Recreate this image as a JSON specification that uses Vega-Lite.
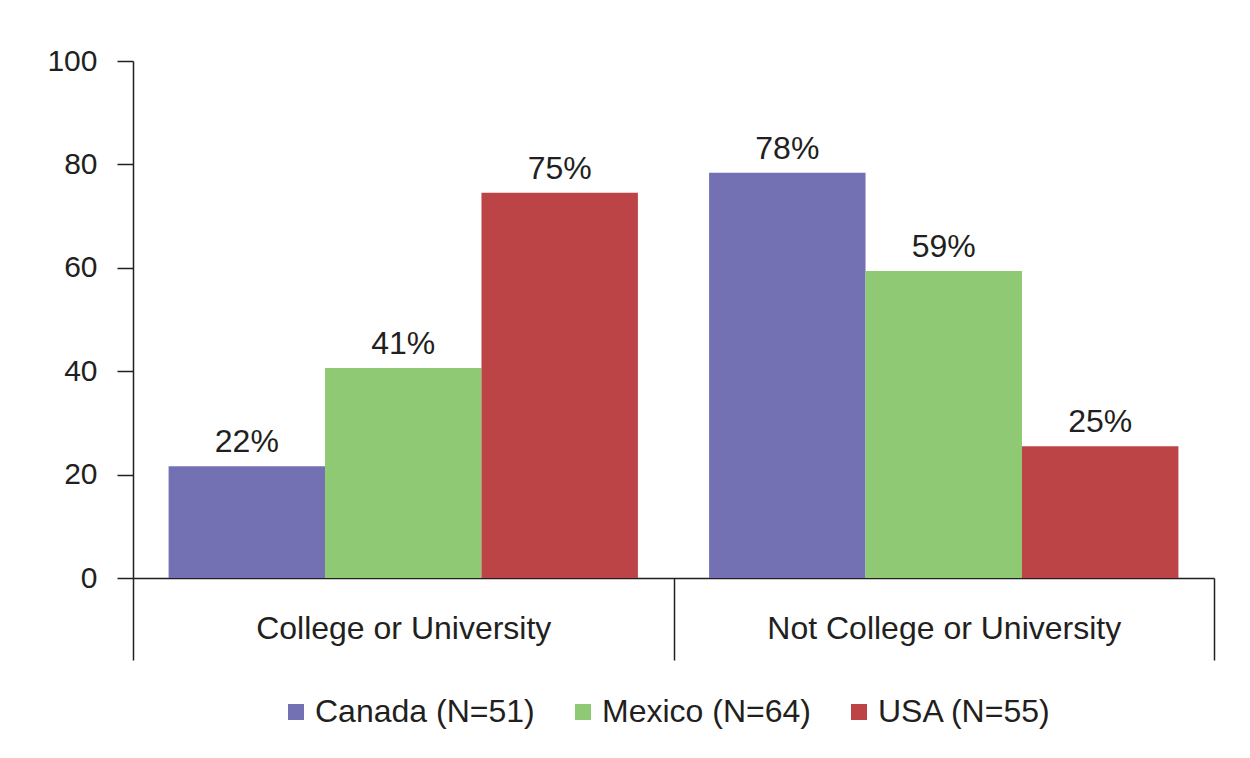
{
  "$schema": "https://vega.github.io/schema/vega-lite/v6.json",
  "width": 1081,
  "height": 517,
  "autosize": "none",
  "padding": {"left": 133, "top": 61, "right": 36, "bottom": 180},
  "background": "white",
  "config": {
    "font": "Liberation Sans",
    "view": {"stroke": null},
    "axis": {"labelColor": "#231f20", "domainColor": "#231f20", "tickColor": "#231f20", "grid": false, "title": null}
  },
  "data": {
    "values": [
      {"group": "College or University", "country": "Canada (N=51)", "pct": 21.6, "label": "22%"},
      {"group": "College or University", "country": "Mexico (N=64)", "pct": 40.6, "label": "41%"},
      {"group": "College or University", "country": "USA (N=55)", "pct": 74.5, "label": "75%"},
      {"group": "Not College or University", "country": "Canada (N=51)", "pct": 78.4, "label": "78%"},
      {"group": "Not College or University", "country": "Mexico (N=64)", "pct": 59.4, "label": "59%"},
      {"group": "Not College or University", "country": "USA (N=55)", "pct": 25.5, "label": "25%"}
    ]
  },
  "encoding": {
    "x": {
      "field": "group", "type": "nominal",
      "scale": {"paddingInner": 0, "paddingOuter": 0},
      "axis": {
        "labelAngle": 0, "labelFontSize": 32, "labelLimit": 0, "tickBand": "extent", "tickSize": 82,
        "tickWidth": 1.5, "domainWidth": 1.5, "labelPadding": -47, "labelBaseline": "top"
      }
    },
    "xOffset": {"field": "country", "type": "nominal", "scale": {"paddingInner": 0, "paddingOuter": 0.2275}},
    "y": {
      "field": "pct", "type": "quantitative",
      "scale": {"domain": [0, 100]},
      "axis": {"values": [0, 20, 40, 60, 80, 100], "labelFontSize": 30, "tickSize": 16, "labelPadding": 20, "domain": true, "domainWidth": 1.5, "tickWidth": 1.5}
    }
  },
  "layer": [
    {
      "mark": {"type": "bar"},
      "encoding": {
        "color": {
          "field": "country", "type": "nominal",
          "scale": {"domain": ["Canada (N=51)", "Mexico (N=64)", "USA (N=55)"], "range": ["#7470b4", "#8fc973", "#bc4446"]},
          "legend": {
            "title": null, "orient": "none", "legendX": 147, "legendY": 635, "direction": "horizontal",
            "symbolType": "square", "symbolSize": 256, "symbolStrokeWidth": 0, "symbolOpacity": 1,
            "labelFontSize": 32, "labelLimit": 0, "labelColor": "#231f20", "columnPadding": 32, "labelOffset": 3, "padding": 0
          }
        }
      }
    },
    {
      "mark": {"type": "text", "fontSize": 32, "dy": -14, "baseline": "alphabetic", "color": "#231f20"},
      "encoding": {"text": {"field": "label"}}
    }
  ]
}
